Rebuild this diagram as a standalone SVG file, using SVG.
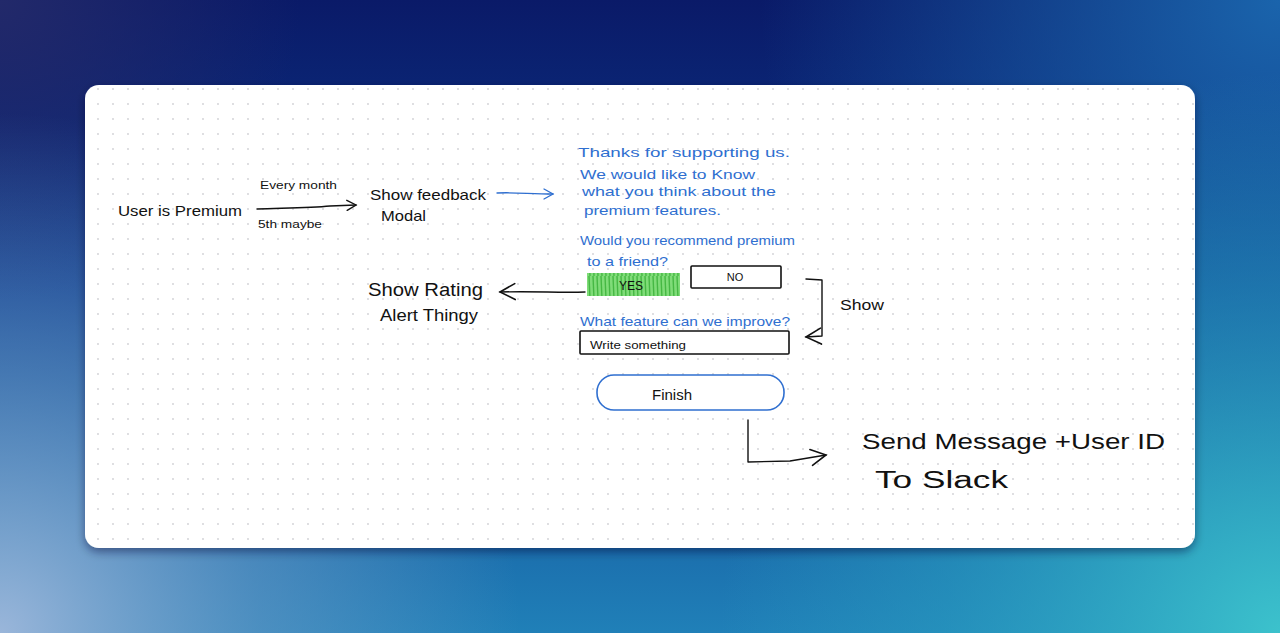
<svg xmlns="http://www.w3.org/2000/svg" width="1280" height="633" viewBox="0 0 1280 633">
  <defs>
    <linearGradient id="bgV" x1="0" y1="0" x2="0" y2="1">
      <stop offset="0" stop-color="#0a1a68"/>
      <stop offset="0.45" stop-color="#0c3a8c"/>
      <stop offset="1" stop-color="#2080b8"/>
    </linearGradient>
    <radialGradient id="glowBL" cx="0" cy="633" r="520" gradientUnits="userSpaceOnUse">
      <stop offset="0" stop-color="#9ab6da" stop-opacity="1"/>
      <stop offset="0.5" stop-color="#6f9cc8" stop-opacity="0.55"/>
      <stop offset="1" stop-color="#6f9cc8" stop-opacity="0"/>
    </radialGradient>
    <radialGradient id="glowBR" cx="1280" cy="633" r="560" gradientUnits="userSpaceOnUse">
      <stop offset="0" stop-color="#3cc2cc" stop-opacity="1"/>
      <stop offset="0.6" stop-color="#2aa0c0" stop-opacity="0.5"/>
      <stop offset="1" stop-color="#2aa0c0" stop-opacity="0"/>
    </radialGradient>
    <radialGradient id="glowTR" cx="1280" cy="0" r="520" gradientUnits="userSpaceOnUse">
      <stop offset="0" stop-color="#1a64ac" stop-opacity="1"/>
      <stop offset="1" stop-color="#1a64ac" stop-opacity="0"/>
    </radialGradient>
    <radialGradient id="glowTL" cx="0" cy="0" r="300" gradientUnits="userSpaceOnUse">
      <stop offset="0" stop-color="#22296a" stop-opacity="1"/>
      <stop offset="1" stop-color="#22296a" stop-opacity="0"/>
    </radialGradient>
    <pattern id="dots" x="0" y="0" width="15" height="15" patternUnits="userSpaceOnUse">
      <circle cx="8" cy="14" r="0.9" fill="#cfcfd4"/>
    </pattern>
    <pattern id="hatch" x="0" y="0" width="4" height="23" patternUnits="userSpaceOnUse">
      <rect width="4" height="23" fill="#7fdc78"/>
      <path d="M1,0 L2,23" stroke="#45b843" stroke-width="1.4"/>
    </pattern>
    <filter id="shadow" x="-5%" y="-5%" width="110%" height="115%">
      <feDropShadow dx="0" dy="4" stdDeviation="5" flood-color="#001030" flood-opacity="0.45"/>
    </filter>
    <marker id="arrK" viewBox="0 0 12 12" refX="10" refY="6" markerWidth="12" markerHeight="12" markerUnits="userSpaceOnUse" orient="auto">
      <path d="M1,1 L10,6 L1,11" fill="none" stroke="#111" stroke-width="1.4" stroke-linecap="round"/>
    </marker>
    <marker id="arrB" viewBox="0 0 12 12" refX="10" refY="6" markerWidth="12" markerHeight="12" markerUnits="userSpaceOnUse" orient="auto">
      <path d="M1,1 L10,6 L1,11" fill="none" stroke="#2f6fd0" stroke-width="1.3" stroke-linecap="round"/>
    </marker>
    <marker id="arrL" viewBox="0 0 20 20" refX="17" refY="10" markerWidth="20" markerHeight="20" markerUnits="userSpaceOnUse" orient="auto">
      <path d="M2,2 L17,10 L2,18" fill="none" stroke="#111" stroke-width="1.6" stroke-linecap="round"/>
    </marker>
    <style>
      .hk { font-family: "Liberation Sans", "DejaVu Sans", sans-serif; fill: #111; }
      .hb { font-family: "Liberation Sans", "DejaVu Sans", sans-serif; fill: #2f6fd0; }
      .ln { fill: none; stroke: #111; stroke-width: 1.4; stroke-linecap: round; stroke-linejoin: round; }
      .lnb { fill: none; stroke: #2f6fd0; stroke-width: 1.3; stroke-linecap: round; }
      .box { fill: #fff; stroke: #111; stroke-width: 1.6; }
    </style>
  </defs>

  <!-- background -->
  <rect width="1280" height="633" fill="url(#bgV)"/>
  <rect width="1280" height="633" fill="url(#glowTR)"/>
  <rect width="1280" height="633" fill="url(#glowTL)"/>
  <rect width="1280" height="633" fill="url(#glowBL)"/>
  <rect width="1280" height="633" fill="url(#glowBR)"/>

  <!-- card -->
  <rect x="85" y="85" width="1110" height="463" rx="14" fill="#fff" filter="url(#shadow)"/>
  <rect x="85" y="85" width="1110" height="463" rx="14" fill="url(#dots)"/>

  <!-- connectors -->
  <g id="connectors">
    <path class="ln" d="M257,209 C285,208 310,208 330,206 L356,205" marker-end="url(#arrK)"/>
    <path class="lnb" d="M497,193 C515,192 530,194 553,194" marker-end="url(#arrB)"/>
    <path class="ln" d="M585,292 C560,293 535,291 500,292" marker-end="url(#arrL)"/>
    <path class="ln" d="M806,279 L822,280 L822,336 L806,337" marker-end="url(#arrL)"/>
    <path class="ln" d="M748,420 L748,462 L790,461 L826,455" marker-end="url(#arrL)"/>
  </g>

  <g id="user-premium">
    <text class="hk" x="118" y="216" font-size="15" textLength="124" lengthAdjust="spacingAndGlyphs">User is Premium</text>
  </g>
  <g id="edge-labels">
    <text class="hk" x="260" y="189" font-size="11" textLength="77" lengthAdjust="spacingAndGlyphs">Every month</text>
    <text class="hk" x="258" y="228" font-size="11" textLength="64" lengthAdjust="spacingAndGlyphs">5th maybe</text>
    <text class="hk" x="840" y="310" font-size="15" textLength="44" lengthAdjust="spacingAndGlyphs">Show</text>
  </g>
  <g id="show-feedback-modal">
    <text class="hk" x="370" y="200" font-size="15" textLength="116" lengthAdjust="spacingAndGlyphs">Show feedback</text>
    <text class="hk" x="381" y="221" font-size="15" textLength="45" lengthAdjust="spacingAndGlyphs">Modal</text>
  </g>
  <g id="modal-text">
    <text class="hb" x="578" y="157" font-size="13" textLength="212" lengthAdjust="spacingAndGlyphs">Thanks for supporting us.</text>
    <text class="hb" x="580" y="179" font-size="13" textLength="175" lengthAdjust="spacingAndGlyphs">We would like to Know</text>
    <text class="hb" x="582" y="196" font-size="13" textLength="194" lengthAdjust="spacingAndGlyphs">what you think about the</text>
    <text class="hb" x="584" y="215" font-size="13" textLength="137" lengthAdjust="spacingAndGlyphs">premium features.</text>
    <text class="hb" x="580" y="245" font-size="13" textLength="215" lengthAdjust="spacingAndGlyphs">Would you recommend premium</text>
    <text class="hb" x="587" y="266" font-size="13" textLength="81" lengthAdjust="spacingAndGlyphs">to a friend?</text>
  </g>
  <g id="yes-button">
    <rect x="587" y="273" width="93" height="23" fill="url(#hatch)"/>
    <text class="hk" x="631" y="290" font-size="12" text-anchor="middle">YES</text>
  </g>
  <g id="no-button">
    <rect class="box" x="691" y="266" width="90" height="22" rx="1"/>
    <text class="hk" x="735" y="281" font-size="11" text-anchor="middle">NO</text>
  </g>
  <g id="show-rating">
    <text class="hk" x="368" y="296" font-size="18" textLength="115" lengthAdjust="spacingAndGlyphs">Show Rating</text>
    <text class="hk" x="380" y="321" font-size="17" textLength="98" lengthAdjust="spacingAndGlyphs">Alert Thingy</text>
  </g>
  <g id="improve">
    <text class="hb" x="580" y="326" font-size="13" textLength="210" lengthAdjust="spacingAndGlyphs">What feature can we improve?</text>
    <rect class="box" x="580" y="331" width="209" height="23" rx="1"/>
    <text class="hk" x="590" y="349" font-size="10" textLength="96" lengthAdjust="spacingAndGlyphs">Write something</text>
  </g>
  <g id="finish">
    <rect x="597" y="375" width="187" height="35" rx="17" fill="#fff" stroke="#2f6fd0" stroke-width="1.6"/>
    <text class="hk" x="672" y="400" font-size="15" text-anchor="middle">Finish</text>
  </g>
  <g id="send-slack">
    <text class="hk" x="862" y="449" font-size="22" textLength="303" lengthAdjust="spacingAndGlyphs">Send Message +User ID</text>
    <text class="hk" x="875" y="488" font-size="23" textLength="133" lengthAdjust="spacingAndGlyphs">To Slack</text>
  </g>
</svg>
